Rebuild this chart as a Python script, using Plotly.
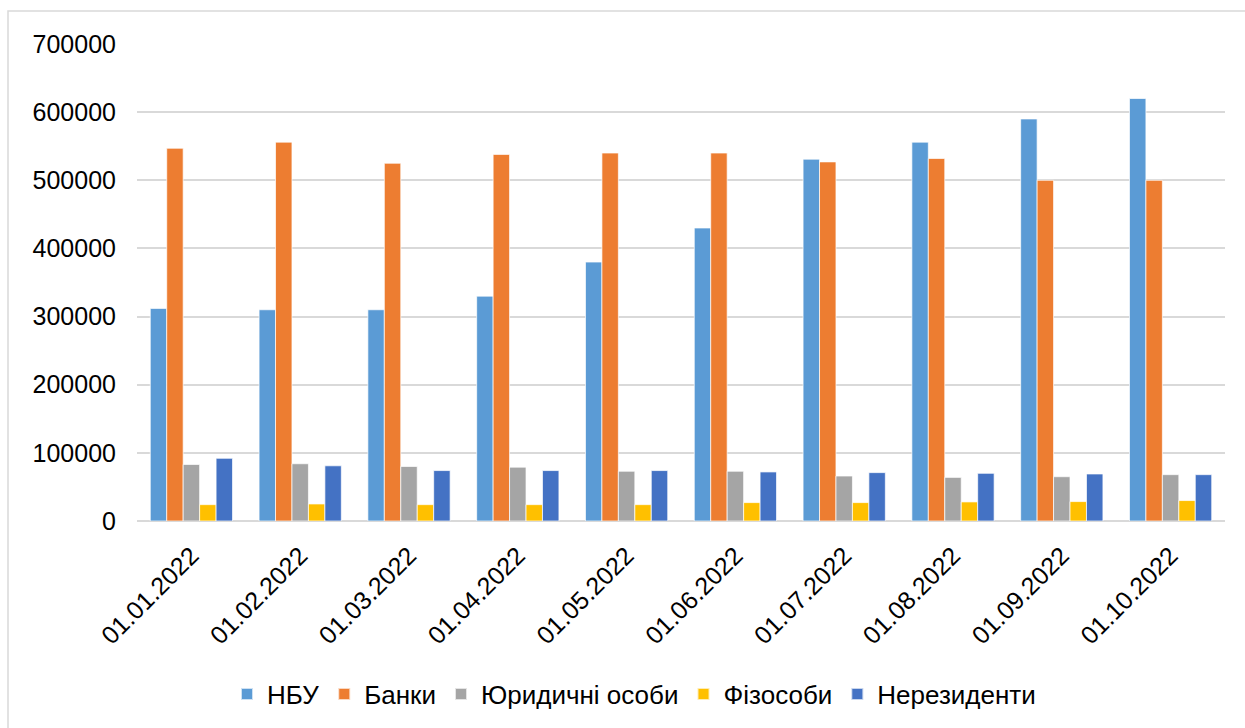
import plotly.graph_objects as go

# Monthly holdings by investor group
dates = ["01.01.2022", "01.02.2022", "01.03.2022", "01.04.2022", "01.05.2022",
         "01.06.2022", "01.07.2022", "01.08.2022", "01.09.2022", "01.10.2022"]

nbu = [312000, 310000, 310000, 330000, 380000, 430000, 531000, 556000, 590000, 620000]
banks = [547000, 556000, 525000, 538000, 540000, 540000, 527000, 532000, 500000, 500000]
legal_entities = [83000, 84000, 80000, 79000, 73000, 73000, 66000, 64000, 65000, 68000]
individuals = [24000, 25000, 24000, 24000, 24000, 27000, 27000, 28000, 28500, 30000]
non_residents = [92000, 81000, 74000, 74000, 74000, 72000, 71000, 70000, 69000, 68000]

series_names = ["НБУ", "Банки", "Юридичні особи", "Фізособи", "Нерезиденти"]
series_values = [nbu, banks, legal_entities, individuals, non_residents]
series_colors = ["#5B9BD5", "#ED7D31", "#A5A5A5", "#FFC000", "#4472C4"]

y_ticks = [0, 100000, 200000, 300000, 400000, 500000, 600000, 700000]

W, H = 1245, 728
ML, MR, MT, MB = 137, 20, 44, 206
pw, ph = W - ML - MR, H - MT - MB

fig = go.Figure()
for name, vals, col in zip(series_names, series_values, series_colors):
    fig.add_trace(go.Bar(
        x=dates, y=vals, name=name,
        marker=dict(color=col, line=dict(color="rgba(255,255,255,0.7)", width=1)),
    ))

font_family = "Liberation Sans, Arial, sans-serif"

def px_to_paper_x(px):
    return (px - ML) / pw

def px_to_paper_y(py):
    return (H - MB - py) / ph

fig.update_layout(
    width=W, height=H,
    margin=dict(l=ML, r=MR, t=MT, b=MB, pad=0),
    paper_bgcolor="white", plot_bgcolor="white",
    barmode="group", bargap=0.244, bargroupgap=0,
    font=dict(family=font_family, size=25, color="#000000"),
    showlegend=True,
    legend=dict(
        orientation="h", x=px_to_paper_x(634), xanchor="center",
        y=px_to_paper_y(694), yanchor="middle",
        font=dict(size=26), itemsizing="constant",
        traceorder="normal",
    ),
    xaxis=dict(
        type="category", tickangle=-45, showgrid=False, showline=False,
        ticks="", ticklabelstandoff=14, tickfont=dict(size=25),
    ),
    yaxis=dict(
        range=[0, 700000], tickvals=y_ticks, ticktext=[str(v) for v in y_ticks],
        showgrid=True, gridcolor="#D9D9D9", gridwidth=1.5,
        zeroline=True, zerolinecolor="#D9D9D9", zerolinewidth=1.5,
        showline=False, ticks="", ticklabelstandoff=20, tickfont=dict(size=25),
    ),
    shapes=[dict(
        type="rect", xref="paper", yref="paper",
        x0=px_to_paper_x(8), x1=px_to_paper_x(W + 20),
        y0=px_to_paper_y(H + 20), y1=px_to_paper_y(11),
        line=dict(color="#D9D9D9", width=1.5), fillcolor="rgba(0,0,0,0)",
        layer="below",
    )],
)

fig.write_html("out.html")
